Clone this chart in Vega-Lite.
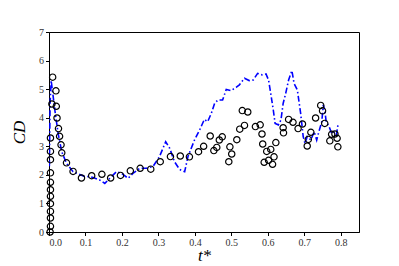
{
  "$schema": "https://vega.github.io/schema/vega-lite/v6.json",
  "autosize": "none",
  "width": 310,
  "height": 200,
  "padding": {"left": 49, "top": 32, "right": 40, "bottom": 34},
  "background": "white",
  "config": {
    "view": {"stroke": "black", "strokeWidth": 1},
    "axis": {
      "grid": false,
      "domainColor": "black",
      "tickColor": "black",
      "tickSize": 3.5,
      "labelOverlap": false,
      "labelPadding": 2,
      "labelFont": "Liberation Serif",
      "labelFontSize": 10,
      "labelColor": "#333333",
      "titleFont": "Liberation Serif",
      "titleFontWeight": "normal",
      "titleFontStyle": "italic",
      "titleColor": "black",
      "titleFontSize": 17
    }
  },
  "datasets": {
    "sim": [
      {"t": 0.001, "cd": 2.3},
      {"t": 0.003, "cd": 4.5},
      {"t": 0.006, "cd": 5.3},
      {"t": 0.016, "cd": 4.27},
      {"t": 0.025, "cd": 3.45},
      {"t": 0.035, "cd": 2.81},
      {"t": 0.048, "cd": 2.4},
      {"t": 0.066, "cd": 2.11},
      {"t": 0.094, "cd": 1.96},
      {"t": 0.121, "cd": 1.91},
      {"t": 0.139, "cd": 1.82},
      {"t": 0.153, "cd": 1.7},
      {"t": 0.167, "cd": 1.88},
      {"t": 0.185, "cd": 2.11},
      {"t": 0.199, "cd": 2.05},
      {"t": 0.217, "cd": 1.88},
      {"t": 0.23, "cd": 2.05},
      {"t": 0.249, "cd": 2.23},
      {"t": 0.267, "cd": 2.23},
      {"t": 0.285, "cd": 2.29},
      {"t": 0.303, "cd": 2.64},
      {"t": 0.32, "cd": 3.16},
      {"t": 0.331, "cd": 2.93},
      {"t": 0.344, "cd": 2.46},
      {"t": 0.358, "cd": 2.19},
      {"t": 0.372, "cd": 2.11},
      {"t": 0.381, "cd": 2.64},
      {"t": 0.399, "cd": 3.22},
      {"t": 0.413, "cd": 3.57},
      {"t": 0.426, "cd": 3.94},
      {"t": 0.435, "cd": 3.86},
      {"t": 0.445, "cd": 4.15},
      {"t": 0.454, "cd": 4.5},
      {"t": 0.463, "cd": 4.62},
      {"t": 0.476, "cd": 4.62},
      {"t": 0.486, "cd": 4.99},
      {"t": 0.499, "cd": 4.95},
      {"t": 0.513, "cd": 5.06},
      {"t": 0.522, "cd": 5.15},
      {"t": 0.536, "cd": 5.38},
      {"t": 0.549, "cd": 5.3},
      {"t": 0.56, "cd": 5.32},
      {"t": 0.572, "cd": 5.55},
      {"t": 0.584, "cd": 5.5},
      {"t": 0.595, "cd": 5.53},
      {"t": 0.602, "cd": 5.32},
      {"t": 0.608, "cd": 4.85},
      {"t": 0.615, "cd": 4.27},
      {"t": 0.62, "cd": 3.8},
      {"t": 0.629, "cd": 3.75},
      {"t": 0.636, "cd": 3.92},
      {"t": 0.642, "cd": 4.5},
      {"t": 0.649, "cd": 4.85},
      {"t": 0.657, "cd": 5.32},
      {"t": 0.666, "cd": 5.65},
      {"t": 0.672, "cd": 5.2},
      {"t": 0.681, "cd": 4.97},
      {"t": 0.69, "cd": 4.15},
      {"t": 0.697, "cd": 3.34},
      {"t": 0.702, "cd": 3.1},
      {"t": 0.708, "cd": 3.34},
      {"t": 0.718, "cd": 3.22},
      {"t": 0.727, "cd": 3.51},
      {"t": 0.734, "cd": 3.22},
      {"t": 0.74, "cd": 3.51},
      {"t": 0.748, "cd": 3.86},
      {"t": 0.752, "cd": 4.45},
      {"t": 0.756, "cd": 4.27},
      {"t": 0.76, "cd": 3.86},
      {"t": 0.768, "cd": 3.69},
      {"t": 0.775, "cd": 3.45},
      {"t": 0.781, "cd": 3.5},
      {"t": 0.788, "cd": 3.4},
      {"t": 0.793, "cd": 3.8}
    ],
    "exp": [
      {"t": 0.003, "cd": 0.0},
      {"t": 0.004, "cd": 0.2},
      {"t": 0.004, "cd": 0.49},
      {"t": 0.004, "cd": 0.72},
      {"t": 0.004, "cd": 0.99},
      {"t": 0.004, "cd": 1.25},
      {"t": 0.004, "cd": 1.48},
      {"t": 0.004, "cd": 1.74},
      {"t": 0.004, "cd": 2.07},
      {"t": 0.004, "cd": 2.53},
      {"t": 0.004, "cd": 2.82},
      {"t": 0.004, "cd": 3.29},
      {"t": 0.01, "cd": 5.42},
      {"t": 0.008, "cd": 4.48},
      {"t": 0.019, "cd": 4.94},
      {"t": 0.02, "cd": 4.4},
      {"t": 0.022, "cd": 3.99},
      {"t": 0.026, "cd": 3.62},
      {"t": 0.029, "cd": 3.35},
      {"t": 0.033, "cd": 3.05},
      {"t": 0.035, "cd": 2.77},
      {"t": 0.048, "cd": 2.42},
      {"t": 0.066, "cd": 2.12},
      {"t": 0.089, "cd": 1.89},
      {"t": 0.117, "cd": 1.97},
      {"t": 0.145, "cd": 2.02},
      {"t": 0.169, "cd": 1.89},
      {"t": 0.196, "cd": 1.98},
      {"t": 0.223, "cd": 2.14},
      {"t": 0.25, "cd": 2.23},
      {"t": 0.279, "cd": 2.2},
      {"t": 0.305, "cd": 2.46},
      {"t": 0.333, "cd": 2.64},
      {"t": 0.36, "cd": 2.66},
      {"t": 0.385, "cd": 2.63},
      {"t": 0.41, "cd": 2.81},
      {"t": 0.424, "cd": 3.0},
      {"t": 0.442, "cd": 3.36},
      {"t": 0.452, "cd": 2.85},
      {"t": 0.46, "cd": 2.96},
      {"t": 0.467, "cd": 3.22},
      {"t": 0.475, "cd": 3.33},
      {"t": 0.493, "cd": 2.46},
      {"t": 0.496, "cd": 2.98},
      {"t": 0.501, "cd": 2.73},
      {"t": 0.515, "cd": 3.23},
      {"t": 0.523, "cd": 3.6},
      {"t": 0.53, "cd": 4.25},
      {"t": 0.536, "cd": 3.73},
      {"t": 0.545, "cd": 4.2},
      {"t": 0.566, "cd": 3.69},
      {"t": 0.579, "cd": 3.75},
      {"t": 0.584, "cd": 3.43},
      {"t": 0.586, "cd": 3.08},
      {"t": 0.59, "cd": 2.44},
      {"t": 0.597, "cd": 2.82},
      {"t": 0.602, "cd": 2.51},
      {"t": 0.608, "cd": 2.89},
      {"t": 0.613, "cd": 2.37},
      {"t": 0.617, "cd": 2.63},
      {"t": 0.622, "cd": 3.13},
      {"t": 0.642, "cd": 3.65},
      {"t": 0.643, "cd": 3.47},
      {"t": 0.657, "cd": 3.94},
      {"t": 0.669, "cd": 3.84},
      {"t": 0.683, "cd": 3.62},
      {"t": 0.695, "cd": 3.78},
      {"t": 0.708, "cd": 3.01},
      {"t": 0.711, "cd": 3.24},
      {"t": 0.718, "cd": 3.49},
      {"t": 0.731, "cd": 3.99},
      {"t": 0.745, "cd": 4.43},
      {"t": 0.75, "cd": 4.24},
      {"t": 0.756, "cd": 3.8},
      {"t": 0.77, "cd": 3.19},
      {"t": 0.775, "cd": 3.42},
      {"t": 0.784, "cd": 3.43},
      {"t": 0.79, "cd": 3.28},
      {"t": 0.792, "cd": 2.98}
    ]
  },
  "encoding": {
    "x": {"field": "t", "type": "quantitative", "scale": {"domain": [0, 0.85], "nice": false},
          "axis": {"values": [0, 0.1, 0.2, 0.3, 0.4, 0.5, 0.6, 0.7, 0.8], "format": ".1f", "title": "t*", "titlePadding": 0, "titleBaseline": "top"}},
    "y": {"field": "cd", "type": "quantitative", "scale": {"domain": [0, 7], "nice": false},
          "axis": {"values": [0, 1, 2, 3, 4, 5, 6, 7], "format": "d", "title": "CD", "titlePadding": 10}}
  },
  "layer": [
    {
      "data": {"name": "sim"},
      "mark": {"type": "line", "color": "#0000ff", "strokeWidth": 1.6, "strokeDash": [6, 2.5, 1.5, 2.5], "clip": true}
    },
    {
      "data": {"name": "exp"},
      "mark": {"type": "point", "shape": "circle", "filled": false, "stroke": "black", "strokeWidth": 1.2, "size": 40, "opacity": 1}
    }
  ]
}
